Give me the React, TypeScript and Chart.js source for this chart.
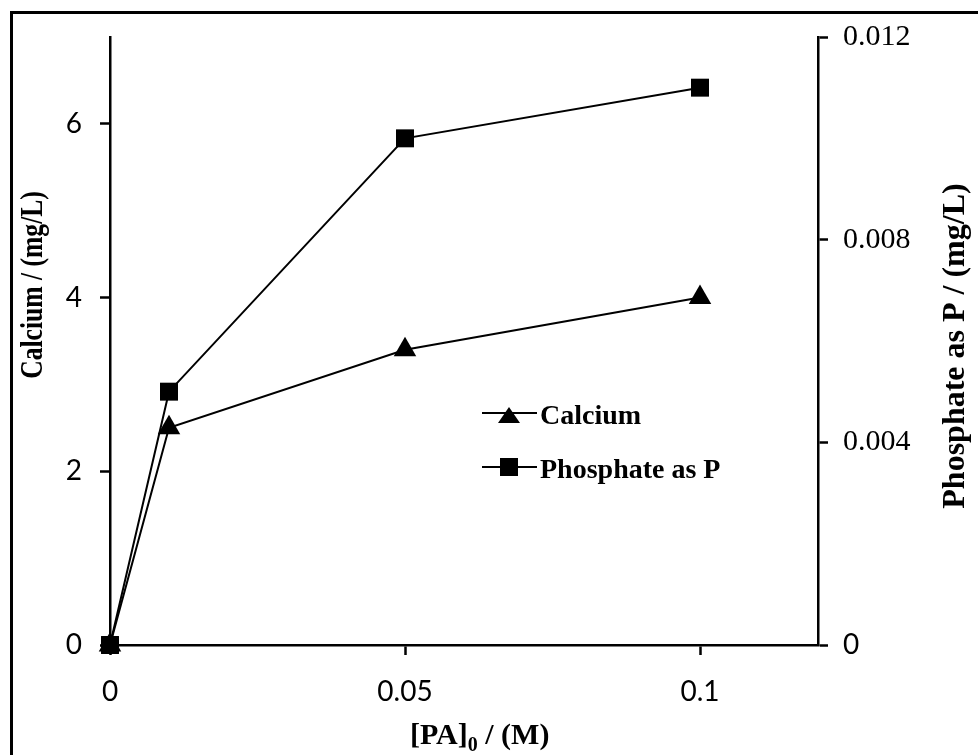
import { useEffect, useRef } from 'react';
import { Chart, registerables } from 'chart.js';

Chart.register(...registerables);

// Initial PA concentration (M) and the dissolved species measured at each one
const concentrations = [0, 0.01, 0.05, 0.1];
const calcium = [0, 2.5, 3.4, 4.0];
const phosphate = [0, 0.005, 0.01, 0.011];

// Axis tick values
const xTicks = [0, 0.05, 0.1];
const calciumTicks = [0, 2, 4, 6];
const phosphateTicks = [0, 0.004, 0.008, 0.012];

// Text
const seriesNames = ['Calcium', 'Phosphate as P'];
const leftTitle = 'Calcium / (mg/L)';
const rightTitle = 'Phosphate as P / (mg/L)';
const xTitleParts = ['[PA]', '0', ' / (M)'];

const SERIF = '"Liberation Serif", "Times New Roman", serif';
const SANS = 'Lato, "Open Sans", sans-serif';
const W = 978;
const H = 755;

const decorations = {
  id: 'decorations',
  afterDraw(chart: any) {
    const ctx = chart.ctx as CanvasRenderingContext2D;
    ctx.save();
    ctx.fillStyle = '#000';
    ctx.strokeStyle = '#000';

    // frame along the left and top edges
    ctx.lineWidth = 3;
    ctx.beginPath();
    ctx.moveTo(11.5, H);
    ctx.lineTo(11.5, 12.5);
    ctx.lineTo(W, 12.5);
    ctx.stroke();

    // x axis title with subscript
    ctx.textBaseline = 'alphabetic';
    ctx.textAlign = 'left';
    let x = 410;
    ctx.font = `bold 30px ${SERIF}`;
    ctx.fillText(xTitleParts[0], x, 744);
    x += ctx.measureText(xTitleParts[0]).width;
    ctx.font = `bold 20px ${SERIF}`;
    ctx.fillText(xTitleParts[1], x, 751);
    x += ctx.measureText(xTitleParts[1]).width;
    ctx.font = `bold 30px ${SERIF}`;
    ctx.fillText(xTitleParts[2], x, 744);

    // left axis title
    ctx.save();
    ctx.translate(34, 285);
    ctx.rotate(-Math.PI / 2);
    ctx.scale(0.8, 1);
    ctx.font = `bold 32px ${SERIF}`;
    ctx.textAlign = 'center';
    ctx.textBaseline = 'middle';
    ctx.fillText(leftTitle, 0, 0);
    ctx.restore();

    // right axis title
    ctx.save();
    ctx.translate(956, 346);
    ctx.rotate(-Math.PI / 2);
    ctx.font = `bold 32px ${SERIF}`;
    ctx.textAlign = 'center';
    ctx.textBaseline = 'middle';
    ctx.fillText(rightTitle, 0, 0);
    ctx.restore();

    // legend
    const rows = [413, 467];
    ctx.lineWidth = 2;
    rows.forEach((y, i) => {
      ctx.beginPath();
      ctx.moveTo(482, y);
      ctx.lineTo(537, y);
      ctx.stroke();
      ctx.beginPath();
      if (i === 0) {
        ctx.moveTo(509, y - 6);
        ctx.lineTo(520, y + 10);
        ctx.lineTo(498, y + 10);
        ctx.closePath();
      } else {
        ctx.rect(500, y - 9, 18, 18);
      }
      ctx.fill();
      ctx.font = `bold 28px ${SERIF}`;
      ctx.textAlign = 'left';
      ctx.textBaseline = 'alphabetic';
      ctx.fillText(seriesNames[i], 540, y + 11);
    });

    ctx.restore();
  },
};

const axisGrid = {
  drawOnChartArea: false,
  drawTicks: true,
  tickLength: 10,
  tickColor: '#000',
  tickWidth: 2.5,
};
const axisBorder = { display: true, color: '#000', width: 2.5 };

export default function App() {
  const canvasRef = useRef<HTMLCanvasElement | null>(null);

  useEffect(() => {
    if (!canvasRef.current) return;
    const chart = new Chart(canvasRef.current, {
      type: 'scatter',
      data: {
        datasets: [
          {
            label: seriesNames[0],
            data: concentrations.map((c, i) => ({ x: c, y: calcium[i] })),
            yAxisID: 'y',
            showLine: true,
            borderColor: '#000',
            borderWidth: 2,
            pointStyle: 'triangle',
            pointRadius: 13,
            pointBackgroundColor: '#000',
            pointBorderColor: '#000',
            pointBorderWidth: 0,
            clip: false,
          },
          {
            label: seriesNames[1],
            data: concentrations.map((c, i) => ({ x: c, y: phosphate[i] })),
            yAxisID: 'y1',
            showLine: true,
            borderColor: '#000',
            borderWidth: 2,
            pointStyle: 'rect',
            pointRadius: 12.7,
            pointBackgroundColor: '#000',
            pointBorderColor: '#000',
            pointBorderWidth: 0,
            clip: false,
          },
        ],
      },
      options: {
        responsive: false,
        devicePixelRatio: 1,
        animation: false,
        events: [],
        layout: { padding: { top: 37, left: 0, right: 0, bottom: 0 } },
        plugins: {
          legend: { display: false },
          tooltip: { enabled: false },
        },
        scales: {
          x: {
            type: 'linear',
            position: 'bottom',
            min: 0,
            max: 0.12,
            afterBuildTicks: (s: any) => {
              s.ticks = xTicks.map((v) => ({ value: v }));
            },
            afterFit: (s: any) => {
              s.height = 110;
            },
            ticks: {
              color: '#000',
              font: { family: SANS, size: 28 },
              padding: 20,
              maxRotation: 0,
              callback: (v: any) => String(v),
            },
            grid: axisGrid,
            border: axisBorder,
          },
          y: {
            type: 'linear',
            position: 'left',
            min: 0,
            max: 7,
            afterBuildTicks: (s: any) => {
              s.ticks = calciumTicks.map((v) => ({ value: v }));
            },
            afterFit: (s: any) => {
              s.width = 110;
            },
            ticks: {
              color: '#000',
              font: { family: SANS, size: 28 },
              padding: 18,
              callback: (v: any) => String(v),
            },
            grid: axisGrid,
            border: axisBorder,
          },
          y1: {
            type: 'linear',
            position: 'right',
            min: 0,
            max: 0.012,
            afterBuildTicks: (s: any) => {
              s.ticks = phosphateTicks.map((v) => ({ value: v }));
            },
            afterFit: (s: any) => {
              s.width = 160;
            },
            ticks: {
              color: '#000',
              font: (c: any) =>
                c.tick && c.tick.value === 0
                  ? { family: SANS, size: 28 }
                  : { family: SERIF, size: 30 },
              padding: 15,
              callback: (v: any) => String(v),
            },
            grid: axisGrid,
            border: axisBorder,
          },
        },
      },
      plugins: [decorations],
    } as any);
    return () => chart.destroy();
  }, []);

  return (
    <div
      style={{
        position: 'absolute',
        left: 0,
        top: 0,
        width: W,
        height: H,
        background: '#fff',
        overflow: 'hidden',
      }}
    >
      <canvas ref={canvasRef} width={W} height={H} style={{ display: 'block' }} />
    </div>
  );
}
